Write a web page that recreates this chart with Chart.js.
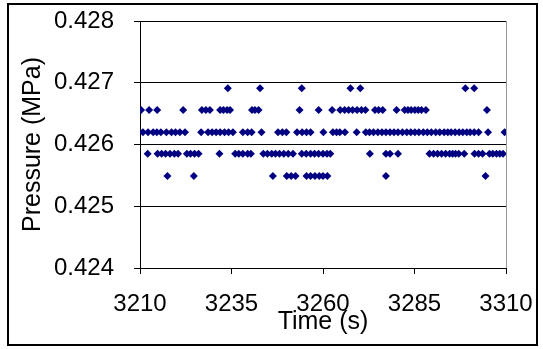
<!DOCTYPE html>
<html>
<head>
<meta charset="utf-8">
<script src="https://cdn.jsdelivr.net/npm/chart.js@4"></script>
<style>
    html, body { margin: 0; padding: 0; background: #fff; }
</style>
</head>
<body>
<canvas id="pressureChart" width="543" height="349"></canvas>
<script>
// sensor readings fall on a few quantised levels; times (s) listed per level
const pressureLevels = [0.42549, 0.42585, 0.42620, 0.42656, 0.42691];
const times42549 = [3217.5, 3224.7, 3246.3, 3250.1, 3251.3, 3252.5, 3255.5, 3256.6, 3257.8, 3259.0,
    3260.0, 3261.2, 3277.2, 3304.4];
const times42585 = [3212.1, 3214.8, 3215.9, 3217.0, 3218.2, 3219.4, 3220.4, 3222.8, 3223.8, 3224.9,
    3226.0, 3231.7, 3236.0, 3237.0, 3238.1, 3239.4, 3240.3, 3243.7, 3244.8, 3246.0, 3247.0, 3248.1,
    3249.3, 3250.5, 3251.8, 3254.2, 3255.4, 3256.6, 3257.7, 3258.8, 3260.0, 3261.1, 3262.0, 3272.8,
    3277.2, 3278.3, 3280.5, 3289.1, 3290.2, 3291.3, 3292.4, 3293.5, 3294.6, 3295.4, 3296.2, 3297.1,
    3298.6, 3301.4, 3302.5, 3303.6, 3305.5, 3306.4, 3307.4, 3308.3, 3309.2];
const times42620 = [3210.8, 3212.2, 3213.6, 3214.6, 3215.7, 3217.2, 3218.6, 3219.7, 3220.9, 3222.3,
    3226.7, 3228.6, 3229.7, 3230.8, 3231.9, 3233.1, 3234.2, 3235.4, 3238.1, 3239.4, 3240.5, 3243.2,
    3247.7, 3248.9, 3250.0, 3252.9, 3254.3, 3255.5, 3256.6, 3260.1, 3262.7, 3263.7, 3264.6, 3266.0,
    3269.2, 3271.7, 3272.7, 3273.8, 3275.0, 3276.1, 3277.2, 3278.3, 3279.4, 3280.5, 3281.7, 3282.9,
    3284.0, 3285.1, 3286.2, 3287.4, 3288.5, 3289.6, 3290.8, 3291.9, 3293.1, 3294.1, 3295.0, 3296.1,
    3297.2, 3298.2, 3299.3, 3300.2, 3301.3, 3302.5, 3305.1, 3309.6];
const times42656 = [3210.3, 3212.5, 3214.7, 3221.8, 3226.9, 3228.0, 3229.1, 3231.9, 3232.8, 3233.8,
    3234.6, 3240.6, 3241.4, 3242.4, 3253.6, 3258.8, 3262.5, 3264.7, 3265.9, 3267.0, 3268.1, 3269.3,
    3270.5, 3271.6, 3274.2, 3275.2, 3276.3, 3280.1, 3282.3, 3283.2, 3284.1, 3285.1, 3286.0, 3286.9,
    3288.1, 3304.8];
const times42691 = [3234.0, 3242.8, 3254.2, 3267.5, 3270.2, 3298.9, 3301.3];

const xTicks = [3210, 3235, 3260, 3285, 3310];
const yTicks = [0.424, 0.425, 0.426, 0.427, 0.428];

document.addEventListener('DOMContentLoaded', () => {
    const timesByLevel = [times42549, times42585, times42620, times42656, times42691];
    const points = [];
    timesByLevel.forEach((times, i) => {
        times.forEach(t => points.push({ x: t, y: pressureLevels[i] }));
    });

    const fontFamily = "'Liberation Sans', Arial, sans-serif";

    // black frame round the whole figure
    const frame = {
        id: 'frame',
        afterDraw(chart) {
            const c = chart.ctx;
            c.save();
            c.strokeStyle = '#000';
            c.lineWidth = 2;
            c.strokeRect(8, 4, 529, 341);
            c.restore();
        }
    };

    const ctx = document.getElementById('pressureChart').getContext('2d');
    new Chart(ctx, {
        type: 'scatter',
        data: {
            datasets: [{
                label: 'Pressure',
                data: points,
                pointStyle: 'rectRot',
                pointRadius: 4,
                pointBorderWidth: 0,
                backgroundColor: '#000080',
                borderColor: '#000080'
            }]
        },
        options: {
            responsive: false,
            animation: false,
            layout: {
                autoPadding: false,
                padding: { left: 0, right: 37, top: 21, bottom: 0 }
            },
            plugins: {
                legend: { display: false },
                tooltip: { enabled: false }
            },
            scales: {
                x: {
                    type: 'linear',
                    min: xTicks[0],
                    max: xTicks[xTicks.length - 1],
                    afterFit: scale => {
                        scale.height = 81;
                        scale.paddingLeft = 0;
                        scale.paddingRight = 0;
                    },
                    afterBuildTicks: scale => { scale.ticks = xTicks.map(v => ({ value: v })); },
                    ticks: {
                        color: '#000',
                        padding: 16,
                        maxRotation: 0,
                        callback: v => String(v),
                        font: { family: fontFamily, size: 24 }
                    },
                    grid: {
                        color: c => (c.tick && c.tick.value === 3310 ? '#999' : 'rgba(0,0,0,0)'),
                        tickColor: '#000',
                        tickLength: 6
                    },
                    border: { color: '#000', width: 1 },
                    title: {
                        display: true,
                        text: 'Time (s)',
                        color: '#000',
                        padding: { top: 0, bottom: 12 },
                        font: { family: fontFamily, size: 25 }
                    }
                },
                y: {
                    min: yTicks[0],
                    max: yTicks[yTicks.length - 1],
                    afterFit: scale => {
                        scale.width = 140;
                        scale.paddingTop = 0;
                        scale.paddingBottom = 0;
                    },
                    afterBuildTicks: scale => { scale.ticks = yTicks.map(v => ({ value: v })); },
                    ticks: {
                        color: '#000',
                        padding: 20,
                        callback: v => v.toFixed(3),
                        font: { family: fontFamily, size: 24 }
                    },
                    grid: {
                        color: '#000',
                        tickColor: '#000',
                        tickLength: 6
                    },
                    border: { color: '#000', width: 1 },
                    title: {
                        display: true,
                        text: 'Pressure (MPa)',
                        color: '#000',
                        padding: { top: 18, bottom: 0 },
                        font: { family: fontFamily, size: 25 }
                    }
                }
            }
        },
        plugins: [frame]
    });
});
</script>
</body>
</html>
